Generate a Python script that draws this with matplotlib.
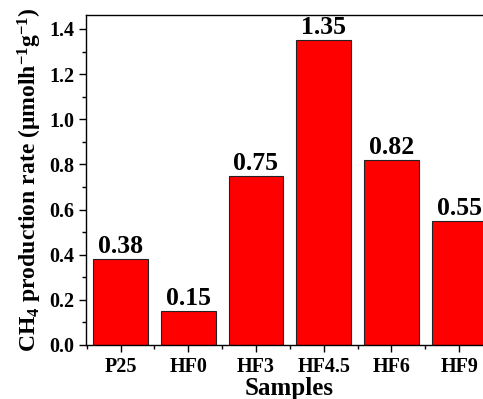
import numpy as np
import matplotlib.pyplot as plt
from matplotlib.ticker import MultipleLocator

samples = ["P25", "HF0", "HF3", "HF4.5", "HF6", "HF9"]
rates = [0.38, 0.15, 0.75, 1.35, 0.82, 0.55]
rate_labels = ["0.38", "0.15", "0.75", "1.35", "0.82", "0.55"]

plt.rcParams["font.family"] = "Liberation Serif"
plt.rcParams["font.weight"] = "bold"
plt.rcParams["mathtext.fontset"] = "custom"
plt.rcParams["mathtext.rm"] = "Liberation Serif:bold"
plt.rcParams["mathtext.it"] = "Liberation Serif:bold"
plt.rcParams["mathtext.bf"] = "Liberation Serif:bold"

fig = plt.figure(figsize=(4.83, 3.99), dpi=100)
ax = fig.add_axes([86 / 483, 54 / 399, 407 / 483, 330 / 399])

x = np.arange(len(samples))
ax.bar(x, rates, width=0.81, color="#ff0000", edgecolor="#222222", linewidth=0.8)

for xi, r, lab in zip(x, rates, rate_labels):
    ax.text(xi, r + 0.004, lab, ha="center", va="bottom", fontsize=18.5, fontweight="bold")

ax.set_xlim(-0.51, 5.5)
ax.set_ylim(0, 1.462)
ax.set_xticks(x)
ax.set_xticklabels(samples)
ax.xaxis.set_minor_locator(MultipleLocator(1, offset=0.5))
ax.yaxis.set_major_locator(MultipleLocator(0.2))
ax.yaxis.set_minor_locator(MultipleLocator(0.1))
ax.yaxis.set_major_formatter(lambda v, p: f"{v:.1f}")
ax.tick_params(which="major", direction="out", length=5, width=1, labelsize=14.5)
ax.tick_params(which="minor", direction="out", length=3, width=1)
for s in ax.spines.values():
    s.set_linewidth(1)

ax.set_xlabel("Samples", fontsize=18, fontweight="bold", labelpad=0)
ax.set_ylabel(r"CH$_4$ production rate ($\mu$molh$^{-1}$g$^{-1}$)", fontsize=17, fontweight="bold", labelpad=4)

fig.savefig("out.png", dpi=100)
